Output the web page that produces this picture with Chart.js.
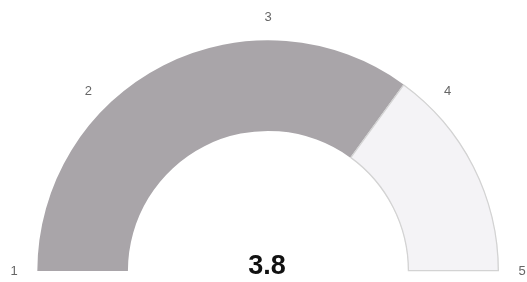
<!DOCTYPE html>
<html>
<head>
<meta charset="utf-8">
<script src="https://cdn.jsdelivr.net/npm/chart.js@4"></script>
<style>
  html, body { margin: 0; padding: 0; background: #fff; }
  #wrap { width: 527px; height: 282px; position: relative; }
</style>
</head>
<body>
<div id="wrap"><canvas id="c"></canvas></div>
<script>
const scaleMin = 1;
const scaleMax = 5;
const tickLabels = ['1', '2', '3', '4', '5'];
const tickValues = [1, 2, 3, 4, 5];
const gaugeValue = 3.8;
const segmentValues = [gaugeValue - scaleMin, scaleMax - gaugeValue];
const segmentColors = ['#a9a5a9', '#f4f3f6'];

const gaugeLabels = {
  id: 'gaugeLabels',
  afterDraw(chart) {
    const meta = chart.getDatasetMeta(0);
    const arc = meta.data[0];
    if (!arc) return;
    const { x, y, outerRadius } = arc.getProps(['x', 'y', 'outerRadius'], true);
    const ctx = chart.ctx;
    ctx.save();
    ctx.fillStyle = '#666';
    ctx.font = '13px "Liberation Sans", Arial, sans-serif';
    ctx.textAlign = 'center';
    ctx.textBaseline = 'middle';
    const r = outerRadius + 23;
    tickValues.forEach((v, i) => {
      const frac = (v - scaleMin) / (scaleMax - scaleMin);
      const ang = Math.PI + frac * Math.PI;
      ctx.fillText(tickLabels[i], x + r * Math.cos(ang), y + r * Math.sin(ang));
    });
    ctx.fillStyle = '#111';
    ctx.font = 'bold 27px "Liberation Sans", Arial, sans-serif';
    ctx.textBaseline = 'alphabetic';
    ctx.fillText(String(gaugeValue), x - 1, y + 3);
    ctx.restore();
  }
};

new Chart(document.getElementById('c'), {
  type: 'doughnut',
  data: {
    labels: ['value', 'rest'],
    datasets: [{
      data: segmentValues,
      backgroundColor: segmentColors,
      borderColor: ['#a9a5a9', '#d3d3d3'],
      borderWidth: [0, 1],
      borderAlign: 'inner'
    }]
  },
  options: {
    responsive: true,
    maintainAspectRatio: false,
    animation: false,
    rotation: -90,
    circumference: 180,
    cutout: '60.5%',
    layout: { padding: { top: 40, bottom: 11, left: 37, right: 28 } },
    plugins: { legend: { display: false }, tooltip: { enabled: false } }
  },
  plugins: [gaugeLabels]
});
</script>
</body>
</html>
